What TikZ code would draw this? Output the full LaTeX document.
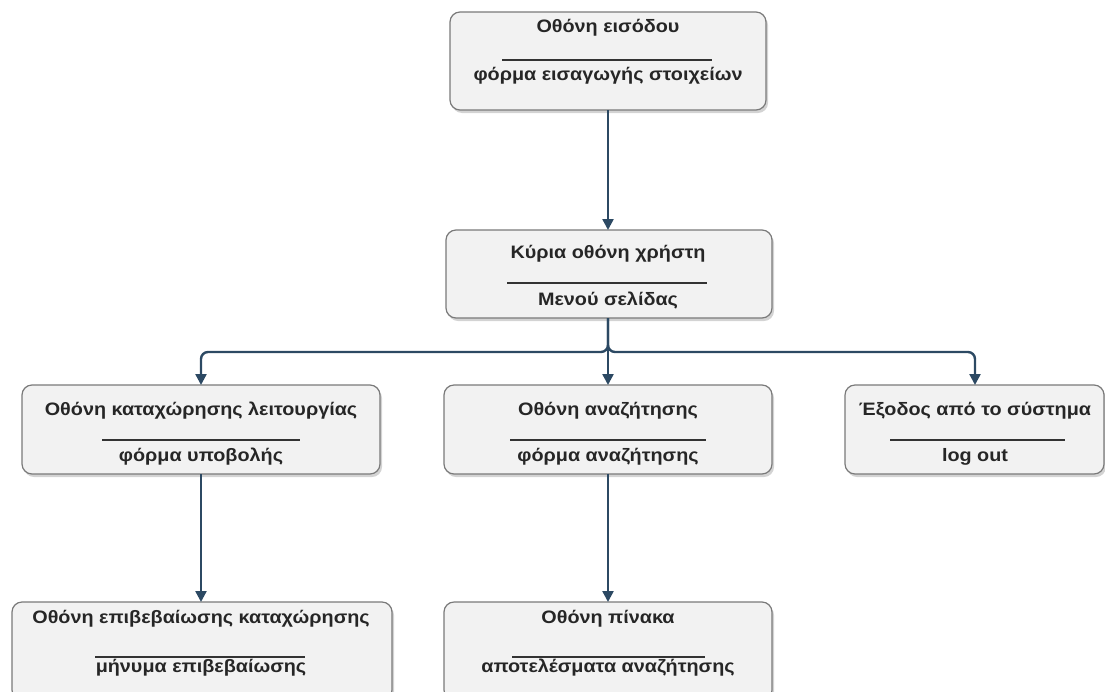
\documentclass[tikz,border=0pt]{standalone}
\usepackage{fontspec}
\setmainfont[FakeStretch=1.1]{Liberation Sans}
\usetikzlibrary{shadows,arrows.meta}
\definecolor{boxfill}{HTML}{F2F2F2}
\definecolor{boxline}{HTML}{7A7A7A}
\definecolor{arr}{HTML}{2C4963}
\begin{document}
\begin{tikzpicture}[x=1pt,y=-1pt,
  scrbox/.style={draw=boxline,line width=1.2pt,fill=boxfill,rounded corners=10pt,
    drop shadow={opacity=0.35,shadow xshift=2pt,shadow yshift=-3pt}},
  lbl/.style={font=\bfseries\fontsize{18}{20}\selectfont,text=black!85,inner sep=0pt,anchor=base},
  sep/.style={line width=1.2pt,black!80},
  conn/.style={arr,line width=2.4pt,-{Triangle[width=11pt,length=11pt]}}]
\useasboundingbox (0,0) rectangle (1105,691);
\clip (0,0) rectangle (1105,691);
% boxes
\draw[scrbox] (450,12) rectangle (766,110);
\coordinate (topB) at (608,110);
\draw[scrbox] (446,230) rectangle (772,318);
\coordinate (mainT) at (608,230);
\coordinate (mainB) at (608,318);
\draw[scrbox] (22,385) rectangle (380,474);
\coordinate (regT) at (201,385);
\coordinate (regB) at (201,474);
\draw[scrbox] (444,385) rectangle (772,474);
\coordinate (srchT) at (608,385);
\coordinate (srchB) at (608,474);
\draw[scrbox] (845,385) rectangle (1104,474);
\coordinate (exitT) at (975,385);
\draw[scrbox] (12,602) rectangle (392,700);
\coordinate (confT) at (201,602);
\draw[scrbox] (444,602) rectangle (772,700);
\coordinate (tblT) at (608,602);
% texts
\node[lbl] (t1a) at (608,32) {Οθόνη εισόδου};
\draw[sep] (502,60) -- (712,60);
\node[lbl] (t1b) at (608,80) {φόρμα εισαγωγής στοιχείων};
\node[lbl] (t2a) at (608,258) {Κύρια οθόνη χρήστη};
\draw[sep] (507,283) -- (707,283);
\node[lbl] (t2b) at (608,305) {Μενού σελίδας};
\node[lbl] (t3a) at (201,415) {Οθόνη καταχώρησης λειτουργίας};
\draw[sep] (102,440) -- (300,440);
\node[lbl] (t3b) at (201,461) {φόρμα υποβολής};
\node[lbl] (t4a) at (608,415) {Οθόνη αναζήτησης};
\draw[sep] (510,440) -- (706,440);
\node[lbl] (t4b) at (608,461) {φόρμα αναζήτησης};
\node[lbl] (t5a) at (975,415) {Έξοδος από το σύστημα};
\draw[sep] (890,440) -- (1065,440);
\node[lbl] (t5b) at (975,461) {log out};
\node[lbl] (t6a) at (201,623) {Οθόνη επιβεβαίωσης καταχώρησης};
\draw[sep] (95,657) -- (305,657);
\node[lbl] (t6b) at (201,672) {μήνυμα επιβεβαίωσης};
\node[lbl] (t7a) at (608,623) {Οθόνη πίνακα};
\draw[sep] (512,657) -- (705,657);
\node[lbl] (t7b) at (608,672) {αποτελέσματα αναζήτησης};
% connectors
\draw[conn] (topB) -- (mainT);
\draw[conn] (mainB) -- (srchT);
\coordinate (fork) at (608,352);
\draw[conn,rounded corners=7pt] (mainB) -- (fork) -- (201,352) -- (regT);
\draw[conn,rounded corners=7pt] (mainB) -- (fork) -- (975,352) -- (exitT);
\draw[conn] (regB) -- (confT);
\draw[conn] (srchB) -- (tblT);
\end{tikzpicture}
\end{document}
